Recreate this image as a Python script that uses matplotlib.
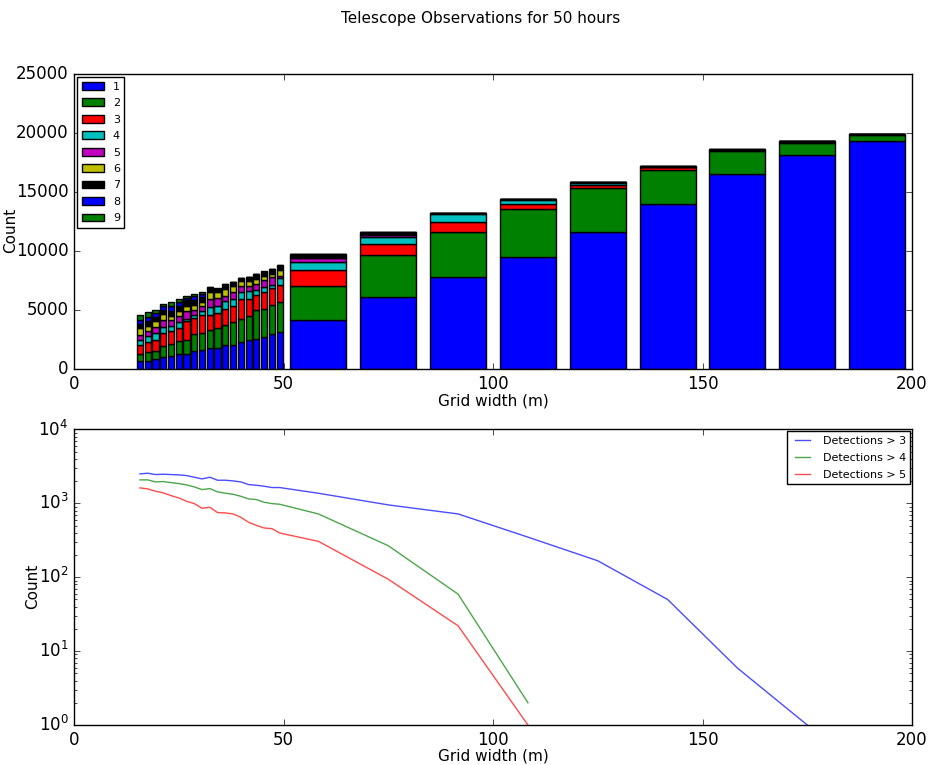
import matplotlib
matplotlib.use("Agg")
import matplotlib.pyplot as plt
import numpy as np

# grid widths (m) of the fine and the coarse runs
fine_width = [15.74, 17.59, 19.44, 21.30, 23.15, 25.00, 26.85, 28.70, 30.56, 32.41,
              34.26, 36.11, 37.96, 39.81, 41.67, 43.52, 45.37, 47.22, 49.07]
coarse_width = [58.33, 75.00, 91.67, 108.33, 125.00, 141.67, 158.33, 175.00, 191.67]

# running total of counts after each detection class 1..9
fine_tops = [
    [760, 1350, 2110, 2535, 2955, 3490, 3885, 4165, 4645],
    [760, 1465, 2335, 2815, 3240, 3660, 4080, 4400, 4900],
    [900, 1605, 2535, 3100, 3575, 4140, 4450, 4750, 5010],
    [1070, 2000, 3100, 3600, 4165, 4700, 5070, 5350, 5575],
    [1180, 2170, 3295, 3715, 4225, 4560, 4985, 5400, 5745],
    [1320, 2450, 3490, 4000, 4560, 4925, 5350, 5700, 5970],
    [1350, 2535, 4080, 4280, 4925, 5405, 5855, 6050, 6195],
    [1550, 3040, 4335, 4590, 5070, 5490, 5855, 6200, 6420],
    [1630, 3100, 4645, 4925, 5350, 5690, 6140, 6400, 6530],
    [1830, 3320, 4645, 5290, 5970, 6530, 6900, 6950, 6985],
    [1830, 3520, 4785, 5405, 6055, 6530, 6820, 6850, 6870],
    [2110, 3800, 5125, 5770, 6250, 6810, 7180, 7210, 7235],
    [2110, 4055, 5350, 5970, 6530, 7040, 7380, 7410, 7430],
    [2365, 4305, 5970, 6530, 7040, 7460, 7700, 7730, 7745],
    [2535, 4560, 6000, 6615, 7040, 7460, 7810, 7840, 7855],
    [2620, 5070, 6280, 6755, 7260, 7660, 8060, 8090, 8110],
    [2760, 5125, 6560, 6955, 7545, 7940, 8250, 8280, 8300],
    [2985, 5435, 6870, 7180, 7830, 8110, 8480, 8510, 8530],
    [3180, 5690, 7180, 7740, 7940, 8445, 8790, 8820, 8840],
]
coarse_tops = [
    [4150, 7100, 8390, 9065, 9430, 9520, 9770, 9790, 9800],
    [6140, 9690, 10585, 11250, 11400, 11450, 11600, 11620, 11630],
    [7850, 11630, 12440, 13150, 13200, 13210, 13220, 13225, 13230],
    [9550, 13570, 14020, 14380, 14400, 14405, 14410, 14415, 14420],
    [11650, 15340, 15620, 15780, 15830, 15840, 15850, 15855, 15860],
    [14030, 16890, 17090, 17150, 17170, 17175, 17180, 17185, 17190],
    [16530, 18500, 18580, 18600, 18605, 18610, 18615, 18620, 18625],
    [18130, 19200, 19270, 19290, 19295, 19300, 19305, 19310, 19315],
    [19310, 19860, 19900, 19920, 19925, 19930, 19935, 19940, 19945],
]
class_names = ["1", "2", "3", "4", "5", "6", "7", "8", "9"]

# counts above detection thresholds
line_width = fine_width + coarse_width[:8]
det3 = [2506, 2558, 2454, 2479, 2454, 2429, 2377, 2258, 2143, 2258,
        2055, 2055, 2014, 1951, 1795, 1758, 1705, 1637, 1637,
        1370, 953, 719, 349, 167, 50, 5.9, 1]
det4 = [2078, 2078, 1951, 1972, 1910, 1853, 1778, 1670, 1536, 1585,
        1429, 1371, 1328, 1247, 1148, 1125, 1035, 993, 973,
        719, 267, 59, 2]
det5 = [1619, 1569, 1460, 1385, 1274, 1184, 1067, 993, 858, 885,
        750, 742, 719, 648, 554, 504, 464, 455, 397,
        306, 94, 22, 1]

plt.style.use("classic")
colors = ["b", "g", "r", "c", "m", "y", "k", "b", "g"]

fig = plt.figure(figsize=(9.31, 7.65), dpi=100, facecolor="white")
fig.subplots_adjust(left=0.0795, right=0.9796, top=0.9033, bottom=0.0523, hspace=0.203)
ax_1 = fig.add_subplot(2, 1, 1)
ax_2 = fig.add_subplot(2, 1, 2)

# stacked bars, fine and coarse grids
for xs, tops, step in [(fine_width, fine_tops, fine_width[1] - fine_width[0]),
                       (coarse_width, coarse_tops, coarse_width[1] - coarse_width[0])]:
    tops = np.array(tops, dtype=float)
    bottoms = np.hstack([np.zeros((len(xs), 1)), tops[:, :-1]])
    heights = tops - bottoms
    for k in range(9):
        label = class_names[k] if xs is fine_width else None
        ax_1.bar(xs, heights[:, k], bottom=bottoms[:, k], width=0.8 * step,
                 align="center", color=colors[k], edgecolor="k", linewidth=1.0, label=label)

ax_1.set_xlim(0, 200)
ax_1.set_ylim(0, 25000)
ax_1.set_xlabel("Grid width (m)", fontsize=11)
ax_1.set_ylabel("Count", fontsize=11)
ax_1.xaxis.set_label_coords(0.5, -0.08)
ax_1.yaxis.set_label_coords(-0.067, 0.47)
ax_1.legend(loc="upper left", fontsize=8, handlelength=2.0, labelspacing=0.58,
            borderaxespad=0.3)

# detection curves
ax_2.plot(line_width, det3, color="b", alpha=0.7, label="Detections > 3")
ax_2.plot(line_width[:len(det4)], det4, color="g", alpha=0.7, label="Detections > 4")
ax_2.plot(line_width[:len(det5)], det5, color="r", alpha=0.7, label="Detections > 5")
ax_2.set_yscale("log")
ax_2.set_xlim(0, 200)
ax_2.set_ylim(1, 1e4)
ax_2.set_xlabel("Grid width (m)", fontsize=11)
ax_2.set_ylabel("Count", fontsize=11)
ax_2.xaxis.set_label_coords(0.5, -0.079)
ax_2.yaxis.set_label_coords(-0.04, 0.47)
ax_2.legend(loc="upper right", fontsize=8, labelspacing=0.65, borderaxespad=0.15)

fig.suptitle("Telescope Observations for 50 hours", fontsize=11, x=0.516, y=0.985)
fig.savefig("out.png", dpi=100, facecolor="white")
